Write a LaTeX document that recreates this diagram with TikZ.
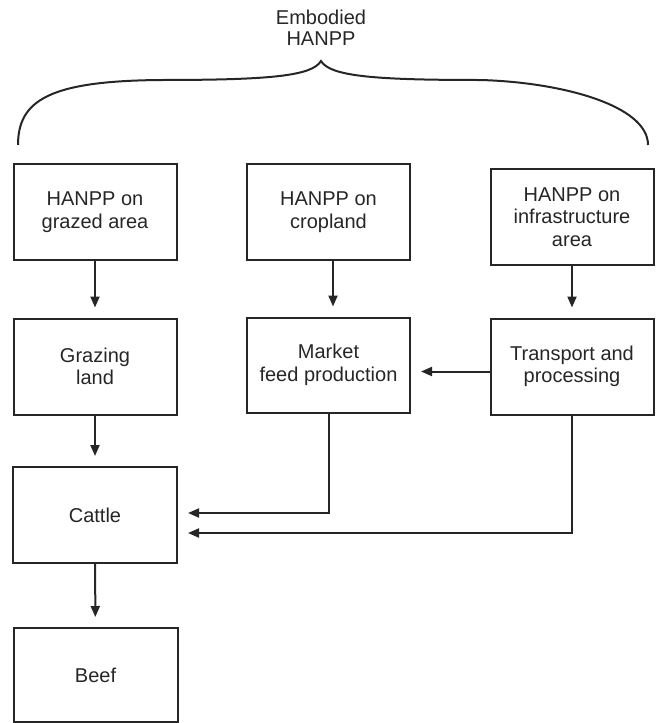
\documentclass[tikz,border=0pt]{standalone}
\usepackage{fontspec}
\setmainfont{Liberation Sans}
\usetikzlibrary{arrows.meta}

\begin{document}
\begin{tikzpicture}[x=1pt,y=-1pt,
  box/.style={draw=black!85,text=black!85,line width=2pt,minimum width=163pt,minimum height=96pt,
    align=center,inner sep=2pt,font=\fontsize{20}{22.5}\selectfont},
  arr/.style={draw=black!85,line width=2pt,-{Triangle[length=11pt,width=9pt]},shorten >=10pt}]
\useasboundingbox (0,0) rectangle (657,723);
% Define the boxes of the top row
\node[box] (graze) at (95,212) {HANPP on\\grazed area};
\node[box] (crop) at (328.5,212) {HANPP on\\cropland};
\node[box] (infra) at (572,217) {HANPP on\\infrastructure\\area};
% Define the boxes of the middle row
\node[box] (grazing) at (95,366.5) {Grazing\\land};
\node[box,minimum height=95pt] (market) at (328.5,365) {Market\\feed production};
\node[box] (transport) at (572,366.5) {Transport and\\processing};
% Define the boxes of the left column
\node[box,minimum width=164pt] (cattle) at (95,515) {Cattle};
\node[box,minimum width=164pt,minimum height=94pt] (beef) at (95.5,675) {Beef};
% Draw the brace and its label
\draw[draw=black!85,line width=2pt] (18,145) .. controls (18,100) and (50,81) .. (160,80)
  .. controls (270,80) and (312,76) .. (321,61)
  .. controls (330,76) and (372,80) .. (480,80)
  .. controls (560,82) and (648,105) .. (648,145);
\node[align=center,text=black!85,font=\fontsize{20}{21}\selectfont] (embodied) at (321,28) {Embodied\\HANPP};
% Draw the arrows
\draw[arr] (graze) -- (grazing);
\draw[arr] ([xshift=4.5pt]crop.south) -- ([xshift=4.5pt]market.north);
\draw[arr] (infra) -- (transport);
\draw[arr] (grazing) -- (cattle);
\draw[arr] (cattle) -- (beef);
\draw[arr] ([yshift=-5pt]transport.west) -- ([yshift=-5pt]transport.west -| market.east);
\draw[arr] (market.south) |- ([yshift=2pt]cattle.east);
\draw[arr] (transport.south) |- ([yshift=-18pt]cattle.east);
\end{tikzpicture}
\end{document}
